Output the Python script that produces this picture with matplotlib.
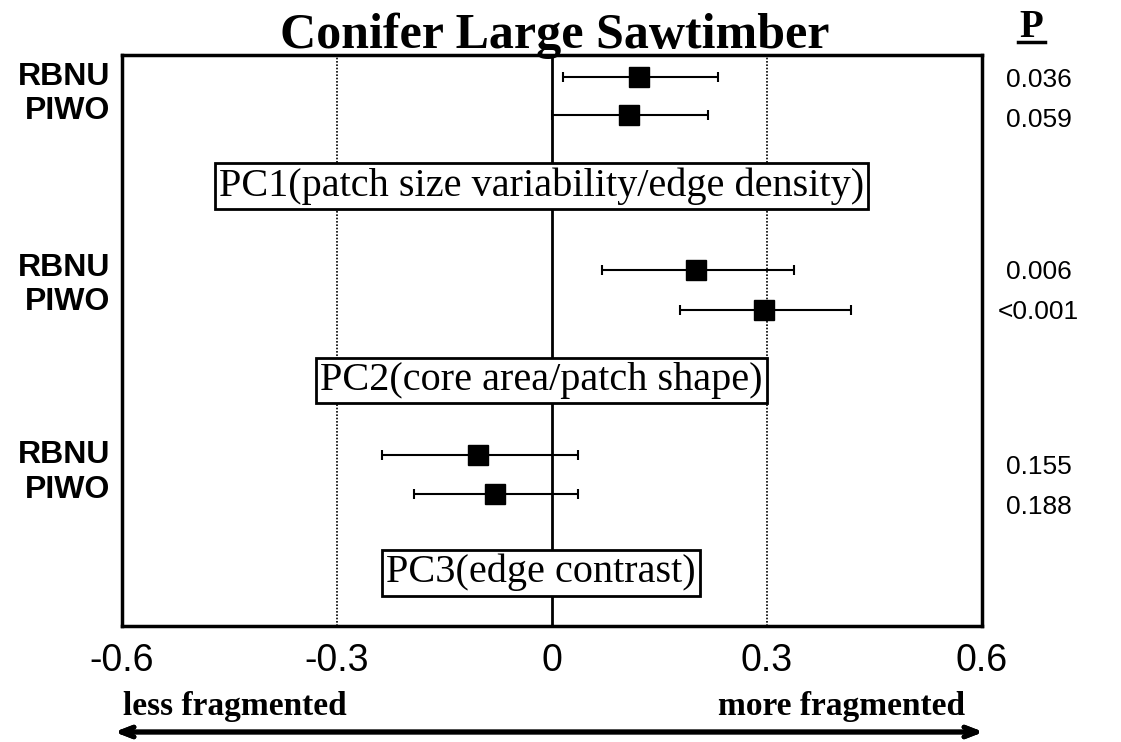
import matplotlib
matplotlib.use("Agg")
import matplotlib.pyplot as plt
from matplotlib.lines import Line2D

# data
species = ["RBNU", "PIWO", "RBNU", "PIWO", "RBNU", "PIWO"]
estimate = [0.121, 0.108, 0.201, 0.296, -0.103, -0.080]
ci_low = [0.016, 0.000, 0.070, 0.179, -0.237, -0.193]
ci_high = [0.231, 0.218, 0.337, 0.417, 0.037, 0.037]
p_values = ["0.036", "0.059", "0.006", "<0.001", "0.155", "0.188"]
components = [
    "PC1(patch size variability/edge density)",
    "PC2(core area/patch shape)",
    "PC3(edge contrast)",
]
xticks = [-0.6, -0.3, 0, 0.3, 0.6]
xtick_labels = ["-0.6", "-0.3", "0", "0.3", "0.6"]

# layout (rows counted downward from the top of the frame)
row_y = [0.58, 1.58, 5.65, 6.70, 10.50, 11.53]
label_y = [0.58, 1.47, 5.60, 6.49, 10.50, 11.43]
p_y = [0.66, 1.71, 5.70, 6.75, 10.82, 11.87]
box_y = [3.44, 8.56, 13.60]
box_x = -0.015

SANS = ["Liberation Sans", "DejaVu Sans"]
SERIF = ["Liberation Serif", "DejaVu Serif"]

fig = plt.figure(figsize=(11.21, 7.42), dpi=100)
ax = fig.add_axes([0.1088, 0.1563, 0.7672, 0.7695])

ax.set_xlim(-0.6, 0.6)
ax.set_ylim(15.0, 0.0)

# reference lines
ax.axvline(0, color="black", lw=2, zorder=1)
for xv in (-0.3, 0.3):
    ax.axvline(xv, color="black", lw=1.2, ls=(0, (1, 1)), zorder=1)

# estimates with confidence intervals
xerr = [
    [e - lo for e, lo in zip(estimate, ci_low)],
    [hi - e for e, hi in zip(estimate, ci_high)],
]
ax.errorbar(
    estimate, row_y, xerr=xerr, fmt="s", color="black", ms=14.5,
    elinewidth=1.5, capsize=3.6, capthick=1.5, zorder=3,
)

for lab, y in zip(species, label_y):
    ax.text(-0.014, y, lab, transform=ax.get_yaxis_transform(), ha="right",
            va="center", fontsize=23, fontweight="bold", family=SANS)

for p, y in zip(p_values, p_y):
    ax.text(1.066, y, p, transform=ax.get_yaxis_transform(), ha="center",
            va="center", fontsize=19, family=SANS)

for comp, y in zip(components, box_y):
    ax.text(box_x, y, comp, ha="center", va="center", fontsize=29,
            family=SERIF, zorder=4,
            bbox=dict(boxstyle="square,pad=0.1", fc="white", ec="black", lw=2))

ax.set_yticks([])
ax.set_xticks(xticks)
ax.set_xticklabels(xtick_labels, fontsize=27, family=SANS)
ax.tick_params(axis="x", length=0, pad=12)
for side in ax.spines.values():
    side.set_linewidth(2.5)

# title and P header
fig.text(0.495, 1 - 48 / 742, "Conifer Large Sawtimber", ha="center",
         va="baseline", fontsize=36, fontweight="bold", family=SERIF)
fig.text(1031 / 1121, 1 - 37 / 742, "P", ha="center", va="baseline",
         fontsize=28, fontweight="bold", family=SERIF)
fig.add_artist(Line2D([1018 / 1121, 1045 / 1121], [1 - 42 / 742] * 2,
                      color="black", lw=2.5))

# direction arrow at the bottom
fig.add_artist(plt.annotate(
    "", xy=(112 / 1121, 1 - 732 / 742), xytext=(986 / 1121, 1 - 732 / 742),
    xycoords="figure fraction", textcoords="figure fraction",
    arrowprops=dict(arrowstyle="<->,head_length=0.9,head_width=0.35",
                    lw=3.5, color="black"),
))
fig.text(123 / 1121, 1 - 715 / 742, "less fragmented", ha="left",
         va="baseline", fontsize=24, fontweight="bold", family=SERIF)
fig.text(965 / 1121, 1 - 715 / 742, "more fragmented", ha="right",
         va="baseline", fontsize=24, fontweight="bold", family=SERIF)

fig.savefig("out.png", dpi=100)
